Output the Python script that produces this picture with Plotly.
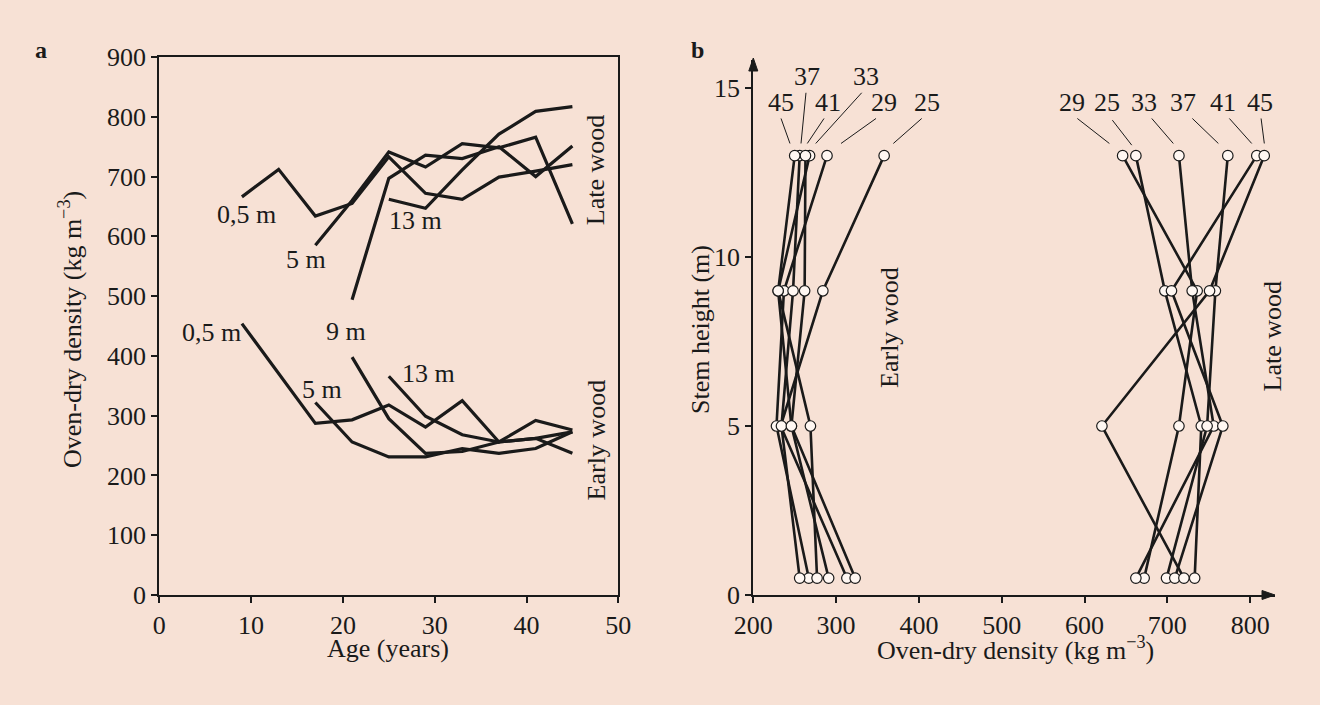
import plotly.graph_objects as go

# ---------------- data: panel a (density vs age, per stem height) ----------------
AGES = [9, 13, 17, 21, 25, 29, 33, 37, 41, 45]
LATE_05 = [666, 712, 634, 655, 733, 672, 662, 699, 709, 720]
LATE_5 = [None, None, 585, 660, 741, 716, 755, 748, 766, 621]
LATE_9 = [None, None, None, 494, 697, 736, 730, 750, 700, 751]
LATE_13 = [None, None, None, None, 662, 647, 711, 771, 809, 817]
EARLY_05 = [454, 370, 287, 293, 318, 281, 325, 256, 292, 276]
EARLY_5 = [None, None, 322, 256, 231, 231, 245, 237, 245, 273]
EARLY_9 = [None, None, None, 398, 295, 237, 240, 256, 262, 273]
EARLY_13 = [None, None, None, None, 366, 299, 268, 256, 262, 237]

# ---------------- data: panel b (density vs stem height, per age) ----------------
B_AGES = [25, 29, 33, 37, 41, 45]
HEIGHTS = [0.5, 5, 9, 13]
B_LATE_H05 = [733, 672, 662, 699, 709, 720]
B_LATE_H5 = [741, 714, 756, 748, 767, 621]
B_LATE_H9 = [697, 736, 730, 758, 705, 751]
B_LATE_H13 = [662, 646, 714, 773, 808, 817]
B_EARLY_H05 = [313, 267, 323, 256, 291, 277]
B_EARLY_H5 = [233, 228, 246, 234, 246, 269]
B_EARLY_H9 = [284, 237, 230, 248, 262, 230]
B_EARLY_H13 = [358, 289, 268, 256, 263, 250]

W, H = 1320, 705
BG = "#F7E1D5"
INK = "#1a1a1a"
FONT = "Liberation Serif, Times New Roman, serif"
FS = 26


def px(x):
    return x / W


def py(y):
    return 1 - y / H


def tfont(size=FS):
    return dict(family=FONT, size=size, color=INK)


fig = go.Figure()

# panel a lines
for ys in [LATE_05, LATE_5, LATE_9, LATE_13, EARLY_05, EARLY_5, EARLY_9, EARLY_13]:
    fig.add_trace(go.Scatter(x=AGES, y=ys, mode="lines", xaxis="x", yaxis="y",
                             line=dict(color=INK, width=3.2), showlegend=False,
                             hoverinfo="skip"))

GROUPS = [(B_EARLY_H05, B_EARLY_H5, B_EARLY_H9, B_EARLY_H13),
          (B_LATE_H05, B_LATE_H5, B_LATE_H9, B_LATE_H13)]
# panel b lines
for grp in GROUPS:
    for i, age in enumerate(B_AGES):
        fig.add_trace(go.Scatter(x=[g[i] for g in grp], y=HEIGHTS, mode="lines",
                                 xaxis="x2", yaxis="y2",
                                 line=dict(color=INK, width=2.6), showlegend=False,
                                 name=str(age)))
# panel b markers on top
for grp in GROUPS:
    xs, ys = [], []
    for i in range(len(B_AGES)):
        for g, h in zip(grp, HEIGHTS):
            xs.append(g[i])
            ys.append(h)
    fig.add_trace(go.Scatter(x=xs, y=ys, mode="markers", xaxis="x2", yaxis="y2",
                             marker=dict(size=10.5, color="#FFF7F2",
                                         line=dict(color=INK, width=1.2)),
                             showlegend=False))

ann = []
# panel a series labels
for txt, x, y in [("0,5 m", 9.5, 636), ("5 m", 16.0, 561), ("13 m", 27.9, 626),
                  ("9 m", 20.3, 441), ("0,5 m", 5.7, 439), ("5 m", 17.7, 344),
                  ("13 m", 29.3, 371)]:
    ann.append(dict(x=x, y=y, xref="x", yref="y", text=txt, showarrow=False,
                    font=tfont()))
ann.append(dict(x=47.6, y=711, xref="x", yref="y", text="Late wood", textangle=-90,
                showarrow=False, font=tfont()))
ann.append(dict(x=47.6, y=259, xref="x", yref="y", text="Early wood", textangle=-90,
                showarrow=False, font=tfont()))
ann.append(dict(x=365, y=7.93, xref="x2", yref="y2", text="Early wood", textangle=-90,
                showarrow=False, font=tfont()))
ann.append(dict(x=826.8, y=7.66, xref="x2", yref="y2", text="Late wood", textangle=-90,
                showarrow=False, font=tfont()))

# panel b age labels with leader lines
shapes = []
early_lab = [("45", 233.5, 14.57, 233.5, 14.10, 244.3, 13.36),
             ("37", 265.2, 15.33, 263.6, 14.86, 257.6, 13.36),
             ("41", 290.6, 14.57, 285.4, 14.10, 265.2, 13.36),
             ("33", 335.7, 15.33, 330.9, 14.86, 275.4, 13.36),
             ("29", 358.2, 14.57, 348.2, 14.10, 305.9, 13.36),
             ("25", 409.4, 14.57, 403.4, 14.10, 369.1, 13.36)]
late_lab = [("29", 584.5, 14.57, 591.3, 14.10, 630.0, 13.36),
            ("25", 626.8, 14.57, 633.6, 14.05, 657.0, 13.31),
            ("33", 672.2, 14.57, 681.2, 14.10, 707.2, 13.36),
            ("37", 718.6, 14.57, 730.2, 14.10, 761.6, 13.36),
            ("41", 767.6, 14.57, 774.9, 14.10, 801.9, 13.36),
            ("45", 812.0, 14.57, 813.2, 14.10, 817.1, 13.36)]
for txt, tx, ty, x0, y0, x1, y1 in early_lab + late_lab:
    ann.append(dict(x=tx, y=ty, xref="x2", yref="y2", text=txt, showarrow=False,
                    font=tfont()))
    shapes.append(dict(type="line", xref="x2", yref="y2", x0=x0, y0=y0, x1=x1, y1=y1,
                       line=dict(color=INK, width=1)))

# axis arrowheads for panel b (filled triangles, paper coords so they are not clipped)
XMAX, YMAX = 830, 15.83
B_LEFT, B_RIGHT, B_BOTTOM, B_TOP = 753.3, 1275, 595, 60
shapes.append(dict(type="path", xref="paper", yref="paper",
                   path=(f"M {px(B_RIGHT)},{py(B_BOTTOM)} "
                         f"L {px(B_RIGHT - 13)},{py(B_BOTTOM - 4.5)} "
                         f"L {px(B_RIGHT - 13)},{py(B_BOTTOM + 4.5)} Z"),
                   fillcolor=INK, line=dict(color=INK, width=1)))
shapes.append(dict(type="path", xref="paper", yref="paper",
                   path=(f"M {px(B_LEFT)},{py(B_TOP - 2)} "
                         f"L {px(B_LEFT - 4.5)},{py(B_TOP + 11)} "
                         f"L {px(B_LEFT + 4.5)},{py(B_TOP + 11)} Z"),
                   fillcolor=INK, line=dict(color=INK, width=1)))


def pann(x, y, text, angle=0, size=FS):
    return dict(x=px(x), y=py(y), xref="paper", yref="paper", text=text,
                textangle=angle, xanchor="center", yanchor="middle",
                showarrow=False, font=tfont(size))


# axis titles and panel letters (paper coords)
ann += [
    pann(388, 648, "Age (years)"),
    pann(70, 330, "Oven-dry density (kg m<sup>−3</sup>)", -90),
    pann(1015, 648, "Oven-dry density (kg m<sup>−3</sup>)"),
    pann(700, 330, "Stem height (m)", -90),
    pann(41, 50, "<b>a</b>", 0, 24),
    pann(697, 50, "<b>b</b>", 0, 24),
]

axis_common = dict(showgrid=False, zeroline=False, showline=True, linecolor=INK,
                   linewidth=2, ticks="outside", ticklen=6, tickwidth=2,
                   tickcolor=INK, tickfont=tfont(), automargin=False)

fig.update_layout(
    width=W, height=H, autosize=False,
    margin=dict(l=0, r=0, t=0, b=0, pad=0, autoexpand=False),
    paper_bgcolor=BG, plot_bgcolor=BG,
    showlegend=False,
    xaxis=dict(domain=[px(159.3), px(618.3)], range=[0, 50], dtick=10,
               anchor="y", mirror=True, **axis_common),
    yaxis=dict(domain=[py(595), py(57)], range=[0, 900], dtick=100,
               anchor="x", mirror=True, **axis_common),
    xaxis2=dict(domain=[px(B_LEFT), px(B_RIGHT)], range=[200, XMAX],
                tickvals=[200, 300, 400, 500, 600, 700, 800], anchor="y2",
                **axis_common),
    yaxis2=dict(domain=[py(B_BOTTOM), py(B_TOP)], range=[0, YMAX],
                tickvals=[0, 5, 10, 15], anchor="x2", **axis_common),
    annotations=ann,
    shapes=shapes,
)

fig.write_html("out.html", post_script="document.body.style.margin='0';",
               config={"displayModeBar": False})
